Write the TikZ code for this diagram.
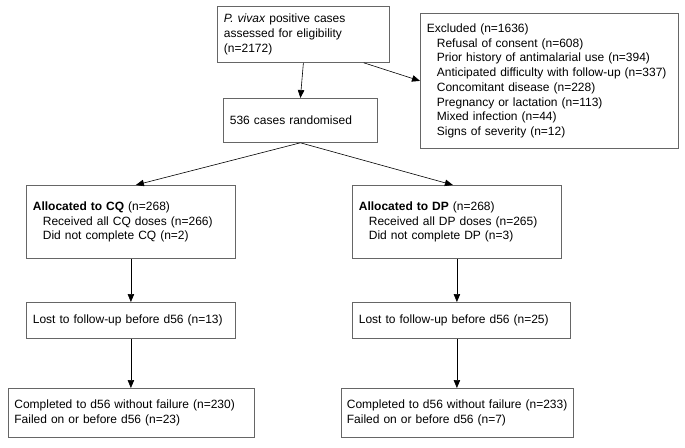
\documentclass[tikz,border=0pt]{standalone}
\usepackage{fontspec}
\setmainfont{Liberation Sans}
\usepackage{tikz}
\usetikzlibrary{arrows.meta}

\newcommand{\ind}{\hspace*{10pt}}

\begin{document}
\begin{tikzpicture}[x=1pt,y=-1pt,
    box/.style={draw=black!60,line width=0.8pt,anchor=north west,align=left,
      inner xsep=6.5pt,inner ysep=2pt,font=\fontsize{12}{14.7}\selectfont},
    arr/.style={-{Triangle[length=8pt,width=6.5pt]},line width=0.6pt}]
      \useasboundingbox (0,0) rectangle (685,447);
      \node[box,minimum width=172pt,minimum height=56pt,text width=159pt] (vivax) at (217,6)
        {\textit{P. vivax} positive cases\\assessed for eligibility\\(n=2172)};
      \node[box,minimum width=154pt,minimum height=44pt,text width=141pt] (rand) at (223,98)
        {536 cases randomised};
      \node[box,minimum width=258pt,minimum height=135pt,text width=245pt] (excl) at (420,13)
        {Excluded (n=1636)\\
         \ind Refusal of consent (n=608)\\
         \ind Prior history of antimalarial use (n=394)\\
         \ind Anticipated difficulty with follow-up (n=337)\\
         \ind Concomitant disease (n=228)\\
         \ind Pregnancy or lactation (n=113)\\
         \ind Mixed infection (n=44)\\
         \ind Signs of severity (n=12)};
      \node[box,minimum width=209pt,minimum height=73pt,text width=196pt] (cq) at (26,185)
        {\textbf{Allocated to CQ} (n=268)\\
         \ind Received all CQ doses (n=266)\\
         \ind Did not complete CQ (n=2)};
      \node[box,minimum width=209pt,minimum height=73pt,text width=196pt] (dp) at (352,185)
        {\textbf{Allocated to DP} (n=268)\\
         \ind Received all DP doses (n=265)\\
         \ind Did not complete DP (n=3)};
      \node[box,minimum width=209pt,minimum height=36pt,text width=196pt] (lostcq) at (26,302)
        {Lost to follow-up before d56 (n=13)};
      \node[box,minimum width=218pt,minimum height=36pt,text width=205pt] (lostdp) at (352,302)
        {Lost to follow-up before d56 (n=25)};
      \node[box,minimum width=246pt,minimum height=49pt,text width=234pt,inner xsep=6pt] (donecq) at (8,388)
        {Completed to d56 without failure (n=230)\\
         Failed on or before d56 (n=23)};
      \node[box,minimum width=232pt,minimum height=49pt,text width=224pt,inner xsep=4pt] (donedp) at (341,388)
        {\hspace*{1.5pt}Completed to d56 without failure (n=233)\\
         \hspace*{1.5pt}Failed on or before d56 (n=7)};
      \draw[arr] (vivax.south) -- (rand.north);
      \draw[arr] ([xshift=-26pt]vivax.south east) -- (excl.west);
      \draw[arr] (rand.south) -- ([xshift=5pt]cq.north);
      \draw[arr] (rand.south) -- ([xshift=-4pt]dp.north);
      \draw[arr] (cq.south) -- (cq.south |- lostcq.north);
      \draw[arr] (lostcq.south) -- (lostcq.south |- donecq.north);
      \draw[arr] (dp.south) -- (dp.south |- lostdp.north);
      \draw[arr] (dp.south |- lostdp.south) -- (dp.south |- donedp.north);
    \end{tikzpicture}
\end{document}
